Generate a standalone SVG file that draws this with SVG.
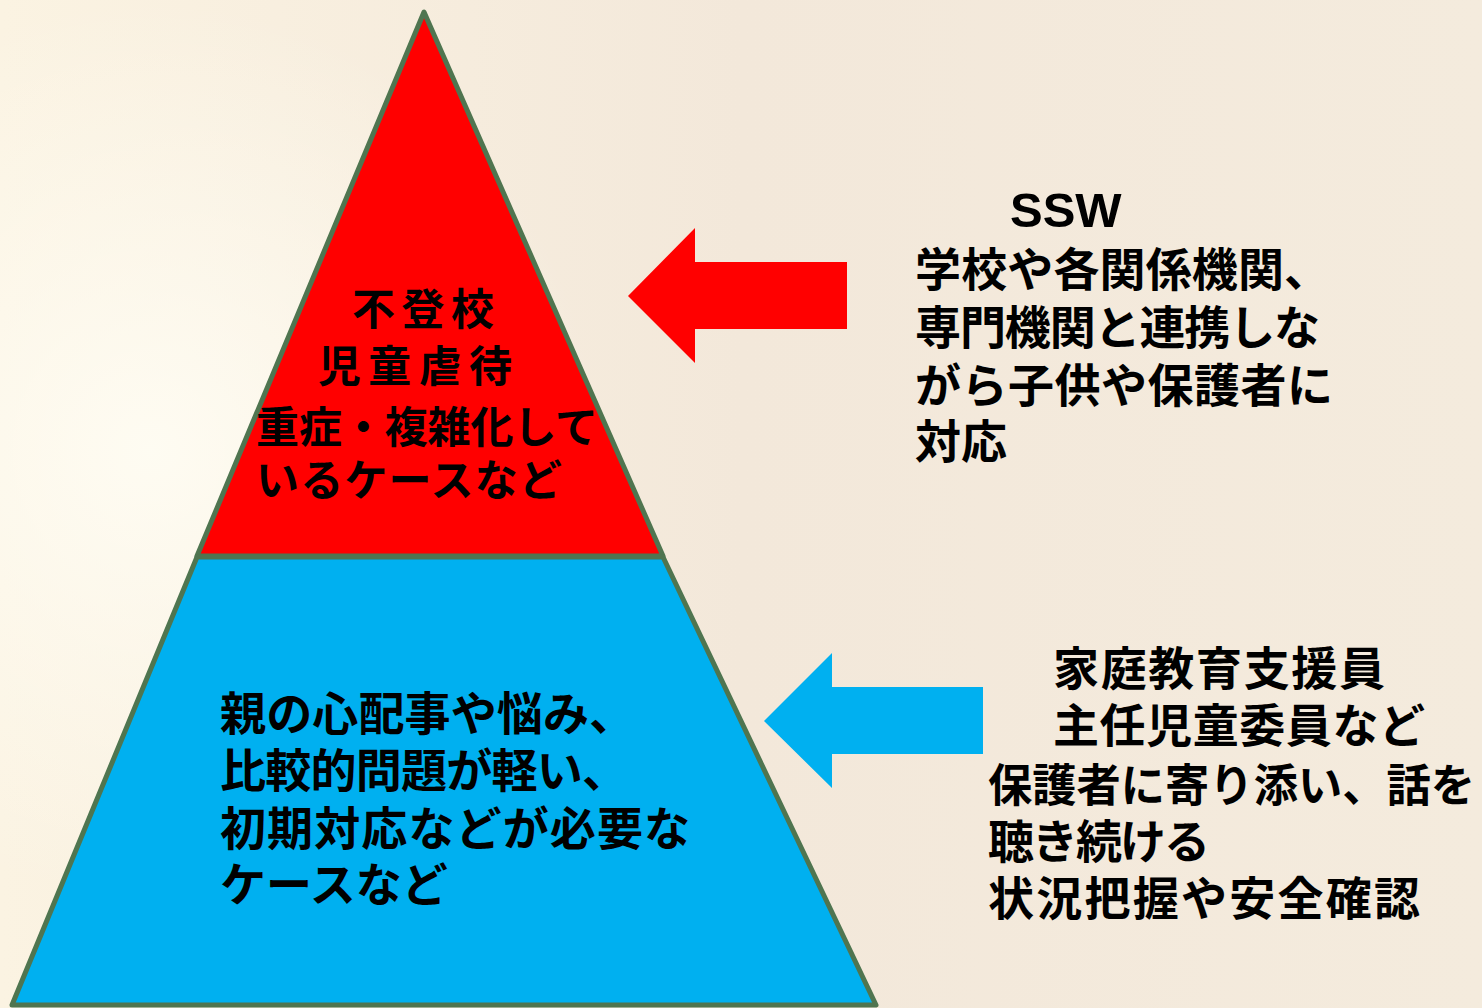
<svg xmlns="http://www.w3.org/2000/svg" width="1482" height="1008" viewBox="0 0 1482 1008">
<defs>
<linearGradient id="bg" x1="0" y1="0" x2="1" y2="0">
<stop offset="0" stop-color="#FBF3E2"/>
<stop offset="0.5" stop-color="#F3E8DA"/>
<stop offset="1" stop-color="#F4EBDD"/>
</linearGradient>
<radialGradient id="glow" cx="150" cy="450" r="450" gradientUnits="userSpaceOnUse">
<stop offset="0" stop-color="#FFFDF4" stop-opacity="0.9"/>
<stop offset="1" stop-color="#FFFDF4" stop-opacity="0"/>
</radialGradient>
<style>
.tri{stroke:#4F7550;stroke-width:5;stroke-linejoin:round}
.t{font-family:"Noto Sans CJK JP","Noto Sans",sans-serif;font-weight:700;fill:#000}
.lat{font-family:"Liberation Sans",Arial,sans-serif;font-weight:700;fill:#000}
</style>
</defs>
<rect width="1482" height="1008" fill="url(#bg)"/>
<rect width="1482" height="1008" fill="url(#glow)"/>
<g id="top-tier">
<polygon class="tri" points="424,12 197,556 663,556" fill="#FF0000"/>
<text class="t" font-size="43" x="352" y="325" textLength="142" lengthAdjust="spacing">不登校</text>
<text class="t" font-size="43" x="318" y="382" textLength="194" lengthAdjust="spacing">児童虐待</text>
<text class="t" font-size="43" x="256" y="443" textLength="342" lengthAdjust="spacing">重症・複雑化して</text>
<text class="t" font-size="43" x="256" y="496" textLength="306" lengthAdjust="spacing">いるケースなど</text>
</g>
<g id="bottom-tier">
<polygon class="tri" points="197,557 663,557 876,1005 12,1005" fill="#00B0F0"/>
<text class="t" font-size="46" x="220" y="730" textLength="415" lengthAdjust="spacing">親の心配事や悩み、</text>
<text class="t" font-size="46" x="220" y="787" textLength="408" lengthAdjust="spacing">比較的問題が軽い、</text>
<text class="t" font-size="46" x="220" y="845" textLength="470" lengthAdjust="spacing">初期対応などが必要な</text>
<text class="t" font-size="46" x="220" y="901">ケースなど</text>
</g>
<g id="connectors">
<polygon points="628,296 695,228 695,262 847,262 847,329 695,329 695,363" fill="#FF0000"/>
<polygon points="764,721 832,653 832,687 983,687 983,754 832,754 832,788" fill="#00B0F0"/>
</g>
<g id="ssw">
<text class="lat" font-size="49" x="1010" y="227">SSW</text>
<text class="t" font-size="46" x="915" y="286" textLength="415" lengthAdjust="spacing">学校や各関係機関、</text>
<text class="t" font-size="46" x="915" y="344" textLength="405" lengthAdjust="spacing">専門機関と連携しな</text>
<text class="t" font-size="46" x="915" y="402" textLength="418" lengthAdjust="spacing">がら子供や保護者に</text>
<text class="t" font-size="46" x="915" y="458">対応</text>
</g>
<g id="support">
<text class="t" font-size="46" x="1053" y="685" textLength="332" lengthAdjust="spacing">家庭教育支援員</text>
<text class="t" font-size="46" x="1053" y="742" textLength="372" lengthAdjust="spacing">主任児童委員など</text>
<text class="t" font-size="45" x="988" y="802" textLength="487" lengthAdjust="spacingAndGlyphs">保護者に寄り添い、話を</text>
<text class="t" font-size="46" x="988" y="858" textLength="222" lengthAdjust="spacing">聴き続ける</text>
<text class="t" font-size="46" x="988" y="915" textLength="432" lengthAdjust="spacing">状況把握や安全確認</text>
</g>
</svg>
